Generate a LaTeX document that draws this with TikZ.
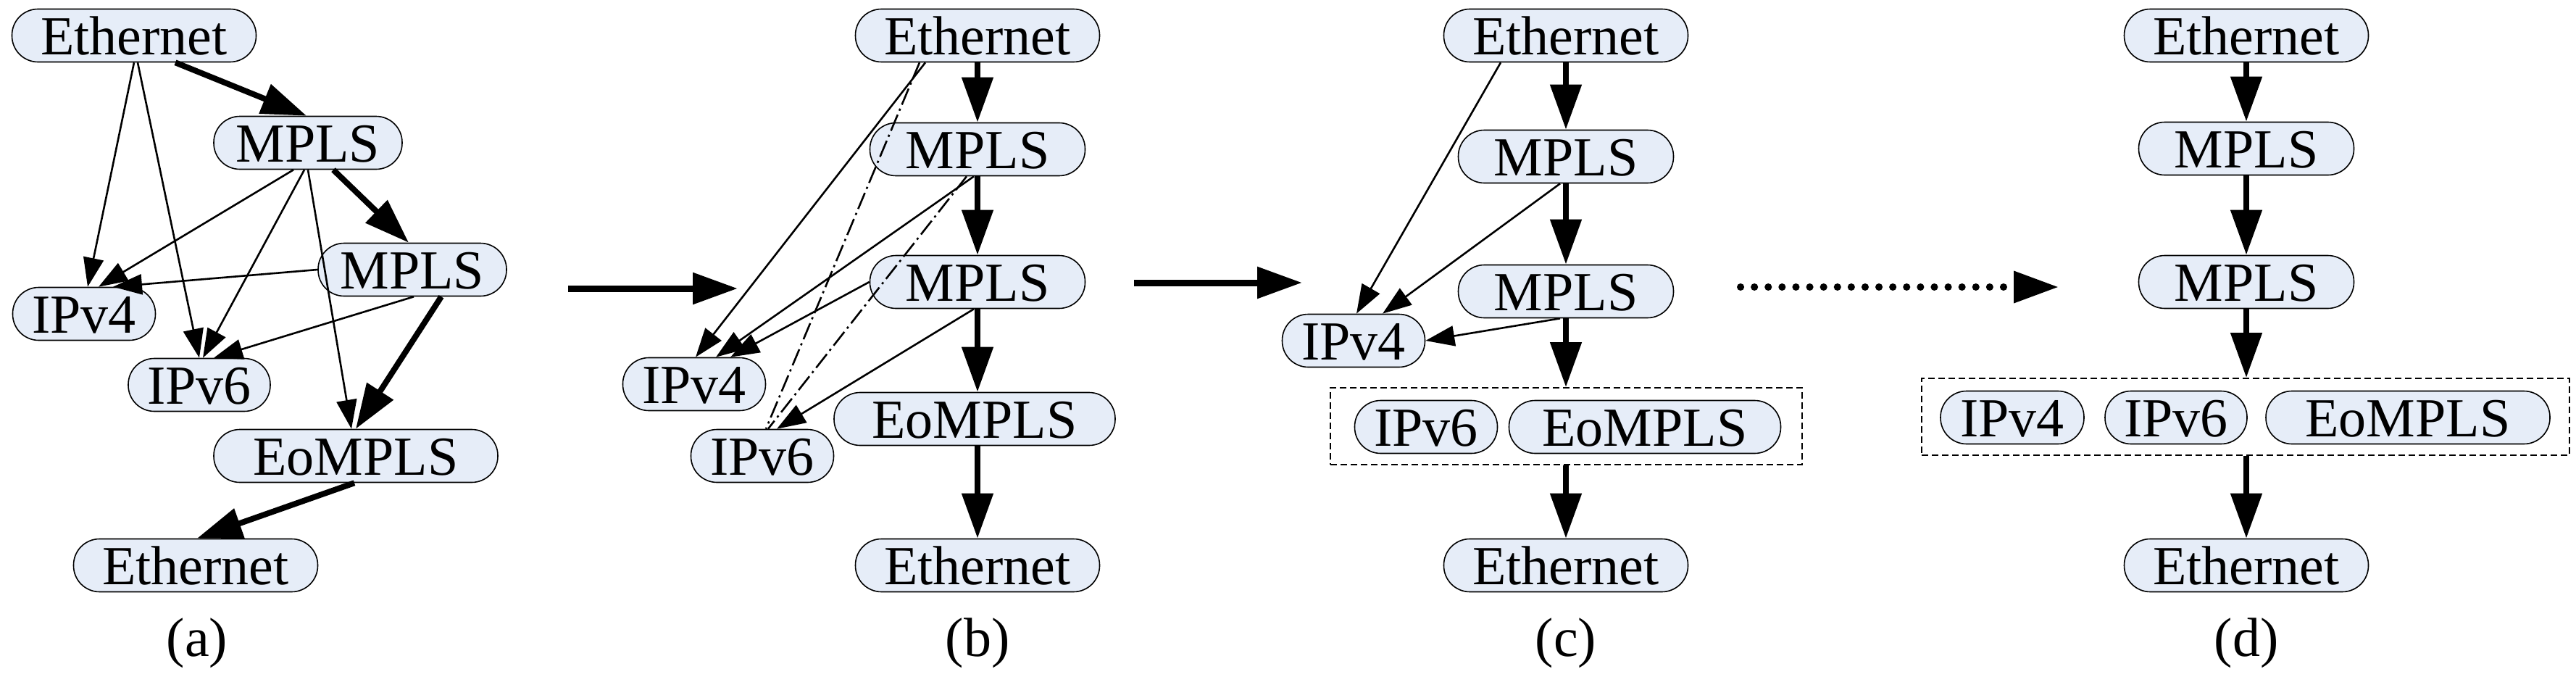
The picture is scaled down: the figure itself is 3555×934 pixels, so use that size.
\documentclass[tikz,border=0pt]{standalone}
\usepackage{fontspec}
\setmainfont{Liberation Serif}
\usetikzlibrary{arrows.meta}
\definecolor{nodefill}{HTML}{E6EDF8}
\begin{document}
\begin{tikzpicture}[x=1pt,y=-1pt,
  nd/.style={draw, line width=1.6pt, fill=nodefill, rounded corners=36pt, minimum height=73pt, inner sep=0pt, text height=52pt, text depth=0pt, font=\fontsize{76}{80}\selectfont},
  thick arr/.style={line width=8pt, -{Triangle[length=62pt,width=42pt]}},
  thin arr/.style={line width=2.6pt, -{Triangle[length=40pt,width=28pt]}},
  dd/.style={line width=2.6pt, dash pattern=on 24pt off 6pt on 3pt off 6pt},
  grp/.style={draw, line width=1.8pt, dash pattern=on 9pt off 5pt, inner sep=0pt},
  lab/.style={font=\fontsize{76}{80}\selectfont, inner sep=0pt},
  trans/.style={line width=9pt, -{Triangle[length=62pt,width=42pt]}}]
\useasboundingbox (0,0) rectangle (3555,934);

% ---------- (a)
\node[nd, minimum width=337pt] (aE) at (185,49) {Ethernet};
\node[nd, minimum width=260pt] (aM1) at (425,197) {MPLS};
\node[nd, minimum width=260pt] (aM2) at (569,372) {MPLS};
\node[nd, minimum width=197pt] (a4) at (116,433) {IPv4};
\node[nd, minimum width=196pt] (a6) at (275,531) {IPv6};
\node[nd, minimum width=392pt] (aEo) at (491,629) {EoMPLS};
\node[nd, minimum width=337pt] (aE2) at (270,780) {Ethernet};
\node[lab] (la) at (272,887) {(a)};

\draw[thin arr] (aE.south) -- ([xshift=5pt]a4.north);
\draw[thin arr] ([xshift=5pt]aE.south) -- (a6.north);
\draw[thin arr] ([xshift=-20pt]aM1.south) -- ([xshift=20pt]a4.north);
\draw[thin arr] ([xshift=-5pt]aM1.south) -- ([xshift=5pt]a6.north);
\draw[thin arr] (aM1.south) -- ([xshift=-6pt]aEo.north);
\draw[thin arr] (aM2.west) -- ([xshift=40pt]a4.north);
\draw[thin arr] ([xshift=2pt]aM2.south) -- ([xshift=20pt]a6.north);
\draw[thick arr] ([xshift=57pt]aE.south) -- ([xshift=-2pt]aM1.north);
\draw[thick arr] ([xshift=35pt]aM1.south) -- ([xshift=-5pt]aM2.north);
\draw[thick arr] ([xshift=40pt]aM2.south) -- (aEo.north);
\draw[thick arr] ([xshift=-2pt]aEo.south) -- ([xshift=2pt]aE2.north);

\draw[trans] (784,398) coordinate (t1s) -- (1018,398) coordinate (t1e);

% ---------- (b)
\node[nd, minimum width=337pt] (bE) at (1349,49) {Ethernet};
\node[nd, minimum width=297pt] (bM1) at (1349,206) {MPLS};
\node[nd, minimum width=297pt] (bM2) at (1349,389) {MPLS};
\node[nd, minimum width=197pt] (b4) at (958,530) {IPv4};
\node[nd, minimum width=197pt] (b6) at (1052,629) {IPv6};
\node[nd, minimum width=388pt] (bEo) at (1345,578) {EoMPLS};
\node[nd, minimum width=337pt] (bE2) at (1349,780) {Ethernet};
\node[lab] (lb) at (1349,887) {(b)};

\draw[thick arr] (bE) -- (bM1);
\draw[thick arr] (bM1) -- (bM2);
\draw[thick arr] (bM2) -- (bEo.north -| bM2);
\draw[thick arr] (bEo.south -| bM2) -- (bE2);
\draw[thin arr] ([xshift=-72pt]bE.south) -- ([xshift=2pt]b4.north);
\draw[thin arr] ([xshift=-5pt]bM1.south) -- ([xshift=30pt]b4.north);
\draw[thin arr] (bM2.west) -- ([xshift=50pt]b4.north);
\draw[thin arr] ([xshift=-5pt]bM2.south) -- ([xshift=20pt]b6.north);
\draw[dd] ([xshift=-80pt]bE.south) -- ([xshift=5pt]b6.north);
\draw[dd] ([xshift=-15pt]bM1.south) -- ([xshift=8pt]b6.north);

\draw[trans] (1565,390) coordinate (t2s) -- (1797,390) coordinate (t2e);

% ---------- (c)
\node[nd, minimum width=337pt] (cE) at (2161,49) {Ethernet};
\node[nd, minimum width=297pt] (cM1) at (2161,216) {MPLS};
\node[nd, minimum width=297pt] (cM2) at (2161,402) {MPLS};
\node[nd, minimum width=197pt] (c4) at (1868,470) {IPv4};
\node[nd, minimum width=197pt] (c6) at (1968,589) {IPv6};
\node[nd, minimum width=375pt] (cEo) at (2270,589) {EoMPLS};
\node[grp, minimum width=651pt, minimum height=106pt] (cG) at (2161.5,588) {};
\node[nd, minimum width=337pt] (cE2) at (2161,780) {Ethernet};
\node[lab] (lc) at (2161,887) {(c)};

\draw[thick arr] (cE) -- (cM1);
\draw[thick arr] (cM1) -- (cM2);
\draw[thick arr] (cM2) -- (cG.north -| cM2);
\draw[thick arr] (cG.south -| cM2) -- (cE2);
\draw[thin arr] ([xshift=-90pt]cE.south) -- ([xshift=4pt]c4.north);
\draw[thin arr] ([xshift=-8pt]cM1.south) -- ([xshift=40pt]c4.north);
\draw[thin arr] ([xshift=-8pt]cM2.south) -- (c4.east);

\draw[line width=10pt, line cap=round, dash pattern=on 0.1pt off 19pt] (2402,396) coordinate (t3s) -- (2790,396);
\draw[line width=10pt, -{Triangle[length=62pt,width=42pt]}] (2780,396) -- (2841,396) coordinate (t3e);

% ---------- (d)
\node[nd, minimum width=337pt] (dE) at (3100,49) {Ethernet};
\node[nd, minimum width=297pt] (dM1) at (3100,205) {MPLS};
\node[nd, minimum width=297pt] (dM2) at (3100,389) {MPLS};
\node[nd, minimum width=198pt] (d4) at (2777,576) {IPv4};
\node[nd, minimum width=196pt] (d6) at (3003,576) {IPv6};
\node[nd, minimum width=392pt] (dEo) at (3323,576) {EoMPLS};
\node[grp, minimum width=894pt, minimum height=106pt] (dG) at (3099,575) {};
\node[nd, minimum width=337pt] (dE2) at (3100,780) {Ethernet};
\node[lab] (ld) at (3100,887) {(d)};

\draw[thick arr] (dE) -- (dM1);
\draw[thick arr] (dM1) -- (dM2);
\draw[thick arr] (dM2) -- (dG.north -| dM2);
\draw[thick arr] (dG.south -| dM2) -- (dE2);
\end{tikzpicture}
\end{document}
